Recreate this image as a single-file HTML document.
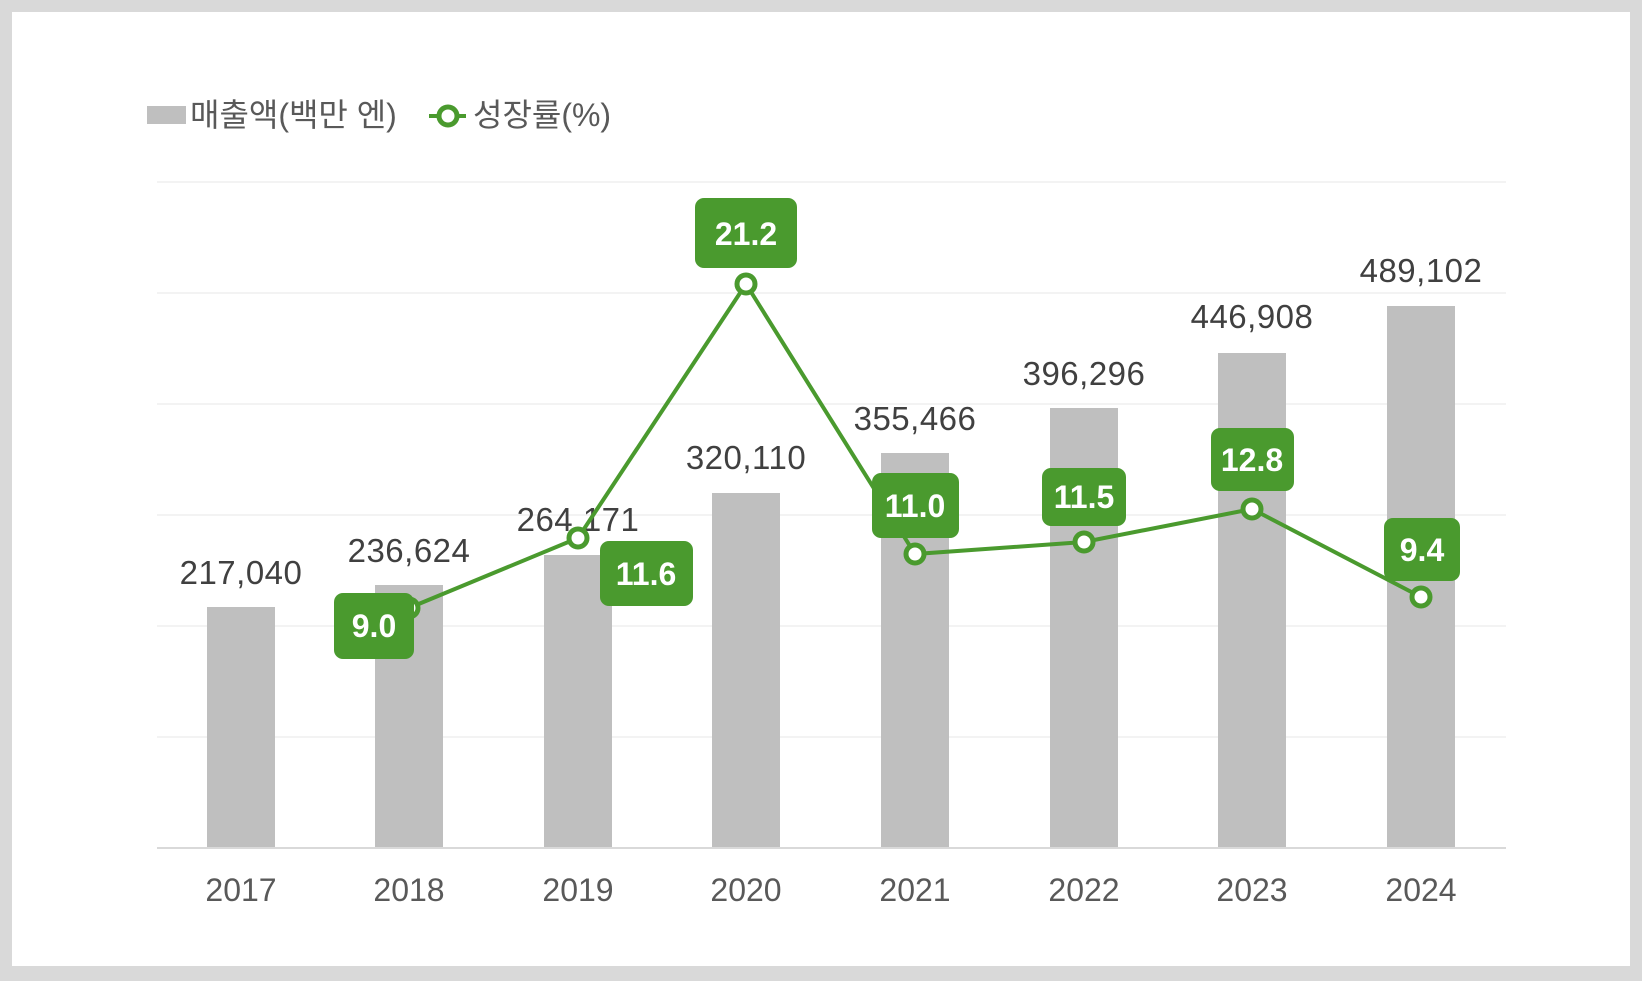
<!DOCTYPE html>
<html><head><meta charset="utf-8"><style>
html,body{margin:0;padding:0;background:#d9d9d9;}
svg{display:block;}
text{font-family:"Liberation Sans","Noto Sans CJK KR",sans-serif;}
</style></head><body>
<svg width="1642" height="981" viewBox="0 0 1642 981" xmlns="http://www.w3.org/2000/svg">
<rect x="0" y="0" width="1642" height="981" fill="#d9d9d9"/>
<rect x="12" y="12" width="1618" height="954" fill="#ffffff"/>
<!-- legend -->
<rect x="147" y="106" width="39" height="18" fill="#bfbfbf"/>
<text x="190" y="126" font-size="32" fill="#595959">매출액(백만 엔)</text>
<line x1="429" y1="116" x2="466" y2="116" stroke="#4a9a2e" stroke-width="4"/>
<circle cx="448" cy="116" r="9" fill="#fff" stroke="#4a9a2e" stroke-width="5"/>
<text x="473" y="126" font-size="32" fill="#595959">성장률(%)</text>
<!-- grid -->
<g stroke="#efefef" stroke-width="1.5">
<line x1="157" y1="182" x2="1506" y2="182"/>
<line x1="157" y1="293" x2="1506" y2="293"/>
<line x1="157" y1="404" x2="1506" y2="404"/>
<line x1="157" y1="515" x2="1506" y2="515"/>
<line x1="157" y1="626" x2="1506" y2="626"/>
<line x1="157" y1="737" x2="1506" y2="737"/>
</g>
<!-- bars -->
<g fill="#bfbfbf">
<rect x="207" y="607" width="68" height="241"/>
<rect x="375" y="585" width="68" height="263"/>
<rect x="544" y="555" width="68" height="293"/>
<rect x="712" y="493" width="68" height="355"/>
<rect x="881" y="453" width="68" height="395"/>
<rect x="1050" y="408" width="68" height="440"/>
<rect x="1218" y="353" width="68" height="495"/>
<rect x="1387" y="306" width="68" height="542"/>
</g>
<line x1="157" y1="848" x2="1506" y2="848" stroke="#d9d9d9" stroke-width="2"/>
<!-- bar labels -->
<g font-size="33" fill="#404040" text-anchor="middle" letter-spacing="0.5">
<text x="241" y="584">217,040</text>
<text x="409" y="562">236,624</text>
<text x="578" y="531">264,171</text>
<text x="746" y="469">320,110</text>
<text x="915" y="430">355,466</text>
<text x="1084" y="385">396,296</text>
<text x="1252" y="328">446,908</text>
<text x="1421" y="282">489,102</text>
</g>
<!-- years -->
<g font-size="32" fill="#595959" text-anchor="middle">
<text x="241" y="901">2017</text>
<text x="409" y="901">2018</text>
<text x="578" y="901">2019</text>
<text x="746" y="901">2020</text>
<text x="915" y="901">2021</text>
<text x="1084" y="901">2022</text>
<text x="1252" y="901">2023</text>
<text x="1421" y="901">2024</text>
</g>
<!-- line -->
<polyline points="409,608 578,538 746,284 915,554 1084,542 1252,509 1421,597" fill="none" stroke="#4a9a2e" stroke-width="4"/>
<g fill="#fff" stroke="#4a9a2e" stroke-width="5">
<circle cx="409" cy="608" r="9"/>
<circle cx="578" cy="538" r="9"/>
<circle cx="746" cy="284" r="9"/>
<circle cx="915" cy="554" r="9"/>
<circle cx="1084" cy="542" r="9"/>
<circle cx="1252" cy="509" r="9"/>
<circle cx="1421" cy="597" r="9"/>
</g>
<!-- data label boxes -->
<g fill="#4a9a2e">
<rect x="334" y="593" width="80" height="66" rx="9"/>
<rect x="600" y="541" width="93" height="65" rx="9"/>
<rect x="695" y="198" width="102" height="70" rx="9"/>
<rect x="872" y="473" width="87" height="65" rx="9"/>
<rect x="1042" y="468" width="84" height="58" rx="9"/>
<rect x="1211" y="428" width="83" height="63" rx="9"/>
<rect x="1384" y="518" width="76" height="63" rx="9"/>
</g>
<g font-size="32" font-weight="bold" fill="#fff" text-anchor="middle">
<text x="374" y="637">9.0</text>
<text x="646" y="585">11.6</text>
<text x="746" y="245">21.2</text>
<text x="915" y="517">11.0</text>
<text x="1084" y="508">11.5</text>
<text x="1252" y="471">12.8</text>
<text x="1422" y="561">9.4</text>
</g>
</svg>
</body></html>
